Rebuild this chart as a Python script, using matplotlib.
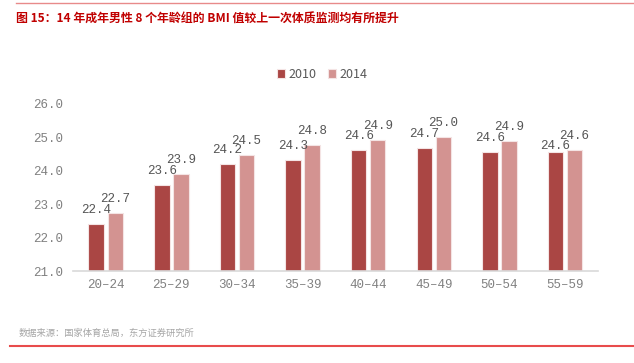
import numpy as np
import matplotlib.pyplot as plt

plt.rcParams['font.family'] = ['Noto Sans CJK SC', 'DejaVu Sans']

groups = ['20–24', '25–29', '30–34', '35–39', '40–44', '45–49', '50–54', '55–59']
bmi_2010 = [22.40, 23.57, 24.20, 24.33, 24.62, 24.69, 24.56, 24.56]
bmi_2014 = [22.73, 23.90, 24.46, 24.76, 24.92, 25.00, 24.90, 24.62]
years = ['2010', '2014']
colors = ['#AA4644', '#D39391']

title = '图 15：14 年成年男性 8 个年龄组的 BMI 值较上一次体质监测均有所提升'
source = '数据来源：国家体育总局，东方证券研究所'

fig = plt.figure(figsize=(6.34, 3.63), dpi=100)
ax = fig.add_axes([0.115, 0.2534, 0.828, 0.4601])

x = np.arange(len(groups))
w = 0.235
off = 0.145
mono = 'Liberation Mono'

# label offsets in points (the last 2010 label sits lower in the original)
lift_2010 = [8, 8, 8, 8, 8, 8, 8, 2]
lift_2014 = [8] * len(groups)

for vals, dx, c, yr, lifts in [(bmi_2010, -off, colors[0], years[0], lift_2010),
                               (bmi_2014, off, colors[1], years[1], lift_2014)]:
    ax.bar(x + dx, np.array(vals) - 21, bottom=21, width=w, color=c,
           edgecolor='#F4E4E4', linewidth=0.8, label=yr)
    for xi, v, lf in zip(x + dx, vals, lifts):
        ax.annotate(f'{v:.1f}', (xi, v), xytext=(0, lf), textcoords='offset points',
                    ha='center', va='baseline', fontsize=9, color='#555555',
                    family=mono)

ax.set_xlim(-0.5, len(groups) - 0.5)
ax.set_ylim(21, 26)
ticks = np.arange(21, 26.5, 1.0)
ax.set_yticks(ticks)
ax.set_yticklabels([f'{t:.1f}' for t in ticks], family=mono,
                   fontsize=9, color='#808080')
ax.set_xticks(x)
ax.set_xticklabels(groups, family=mono, fontsize=9, color='#808080')
ax.tick_params(axis='both', length=0)
ax.tick_params(axis='y', pad=7)
ax.tick_params(axis='x', pad=6)
for s in ['top', 'right', 'left']:
    ax.spines[s].set_visible(False)
ax.spines['bottom'].set_color('#D9D9D9')
ax.spines['bottom'].set_linewidth(1.2)

fig.legend(loc='center', bbox_to_anchor=(0.508, 0.796), ncol=2, frameon=False,
           handlelength=0.7, handleheight=0.7, handletextpad=0.25,
           columnspacing=0.9, prop={'size': 9}, labelcolor='#595959')

fig.text(16 / 634, 1 - 19 / 363, title, fontsize=8.6, fontweight='bold',
         color='#C00000', va='center', ha='left')
fig.text(19 / 634, 1 - 333 / 363, source, fontsize=6.7, color='#A6A6A6',
         va='center', ha='left')

fig.add_artist(plt.Line2D([16 / 634, 1], [1 - 3.3 / 363] * 2, color='#E88A8A',
                          linewidth=1.0, transform=fig.transFigure))
fig.add_artist(plt.Line2D([10 / 634, 1], [1 - 346 / 363] * 2, color='#E84C4C',
                          linewidth=1.5, transform=fig.transFigure))

fig.savefig('out.png', dpi=100)
